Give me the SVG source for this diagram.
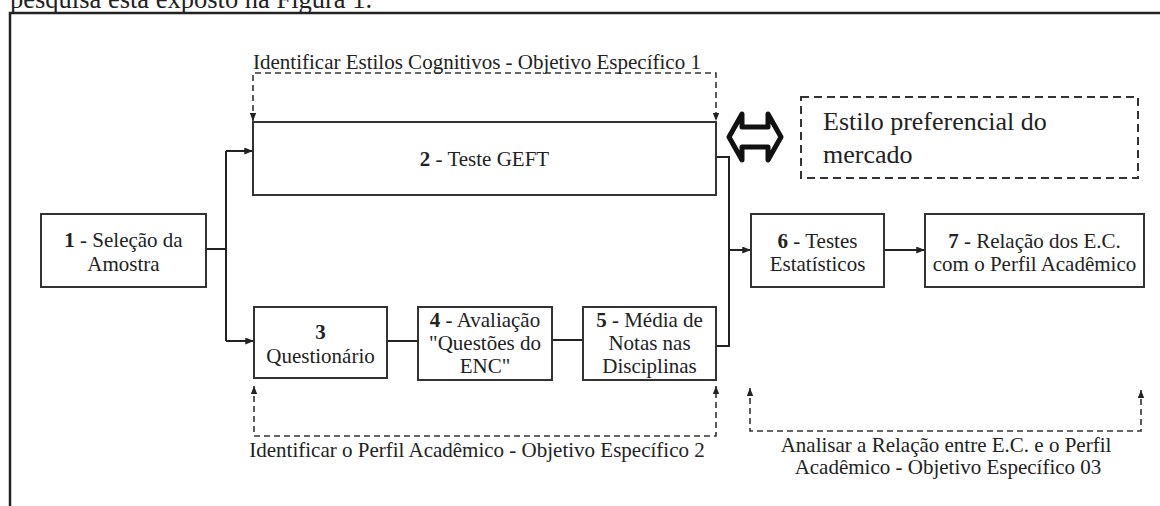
<svg xmlns="http://www.w3.org/2000/svg" width="1160" height="506" viewBox="0 0 1160 506" font-family="'Liberation Serif', 'DejaVu Serif', 'Times New Roman', serif" font-size="21">
<defs>
<marker id="arr" viewBox="0 0 10 8" refX="10" refY="4" markerWidth="9" markerHeight="7" markerUnits="userSpaceOnUse" orient="auto-start-reverse">
<path d="M0,0 L10,4 L0,8 Z" fill="#222"/>
</marker>
<marker id="arrs" viewBox="0 0 10 8" refX="10" refY="4" markerWidth="8" markerHeight="7" markerUnits="userSpaceOnUse" orient="auto-start-reverse">
<path d="M0,0 L10,4 L0,8 Z" fill="#222"/>
</marker>
</defs>
<style>
text{fill:#222}
.c{text-anchor:middle}
.box{fill:#fff;stroke:#333;stroke-width:2}
.ln{fill:none;stroke:#222;stroke-width:2}
.dash{fill:none;stroke:#333;stroke-width:1.6;stroke-dasharray:6 4}
.dbox{fill:none;stroke:#333;stroke-width:2;stroke-dasharray:8 5}
.b{font-weight:bold}
</style>
<rect width="1160" height="506" fill="#fff"/>
<text x="10" y="8" font-size="26.5">pesquisa está exposto na Figura 1.</text>
<path d="M10,506 V13 H1160" fill="none" stroke="#222" stroke-width="2.5"/>

<g id="connectors">
<path class="ln" d="M206,249 H226"/>
<path class="ln" d="M226,151 V341"/>
<path class="ln" d="M226,151 H253" marker-end="url(#arr)"/>
<path class="ln" d="M226,341 H254" marker-end="url(#arr)"/>
<path class="ln" d="M387,341 H418"/>
<path class="ln" d="M552,340 H583"/>
<path class="ln" d="M716,157 H729 V346 H716"/>
<path class="ln" d="M729,250 H751" marker-end="url(#arr)"/>
<path class="ln" d="M884,250 H925" marker-end="url(#arr)"/>
<path class="dash" d="M253,121 V73 H716 V121" marker-start="url(#arrs)" marker-end="url(#arrs)"/>
<path class="dash" d="M254,386 V436 H716 V386" marker-start="url(#arrs)" marker-end="url(#arrs)"/>
<path class="dash" d="M750,388 V431 H1141 V390" marker-start="url(#arrs)" marker-end="url(#arrs)"/>
<path d="M729,137 L742,114 L742,127 L768,127 L768,114 L781,137 L768,160 L768,147 L742,147 L742,160 Z" fill="#fff" stroke="#111" stroke-width="5" stroke-linejoin="round"/>
</g>

<g id="label-obj1">
<text x="253" y="69">Identificar Estilos Cognitivos - Objetivo Específico 1</text>
</g>
<g id="label-obj2">
<text class="c" x="477" y="457">Identificar o Perfil Acadêmico - Objetivo Específico 2</text>
</g>
<g id="label-obj3">
<text class="c" x="946" y="452">Analisar a Relação entre E.C. e o Perfil</text>
<text class="c" x="948" y="474">Acadêmico - Objetivo Específico 03</text>
</g>

<g id="node1">
<rect class="box" x="41" y="214" width="165" height="73"/>
<text class="c" x="123.5" y="247"><tspan class="b">1</tspan> - Seleção da</text>
<text class="c" x="123.5" y="271">Amostra</text>
</g>
<g id="node2">
<rect class="box" x="253" y="122" width="463" height="73"/>
<text class="c" x="484.5" y="166"><tspan class="b">2</tspan> - Teste GEFT</text>
</g>
<g id="node3">
<rect class="box" x="254" y="307" width="133" height="71"/>
<text class="c b" x="320.5" y="339">3</text>
<text class="c" x="320.5" y="363">Questionário</text>
</g>
<g id="node4">
<rect class="box" x="418" y="307" width="134" height="73"/>
<text class="c" x="485" y="327"><tspan class="b">4</tspan> - Avaliação</text>
<text class="c" x="485" y="350">"Questões do</text>
<text class="c" x="485" y="373">ENC"</text>
</g>
<g id="node5">
<rect class="box" x="583" y="307" width="133" height="73"/>
<text class="c" x="649.5" y="327"><tspan class="b">5</tspan> - Média de</text>
<text class="c" x="649.5" y="350">Notas nas</text>
<text class="c" x="649.5" y="373">Disciplinas</text>
</g>
<g id="node6">
<rect class="box" x="751" y="214" width="133" height="73"/>
<text class="c" x="817.5" y="248"><tspan class="b">6</tspan> - Testes</text>
<text class="c" x="817.5" y="271">Estatísticos</text>
</g>
<g id="node7">
<rect class="box" x="925" y="214" width="219" height="73"/>
<text class="c" x="1034.5" y="248"><tspan class="b">7</tspan> - Relação dos E.C.</text>
<text class="c" x="1034.5" y="271">com o Perfil Acadêmico</text>
</g>
<g id="note">
<rect class="dbox" x="801" y="97" width="337" height="81"/>
<text x="823" y="130" font-size="26">Estilo preferencial do</text>
<text x="823" y="163" font-size="26">mercado</text>
</g>
</svg>
